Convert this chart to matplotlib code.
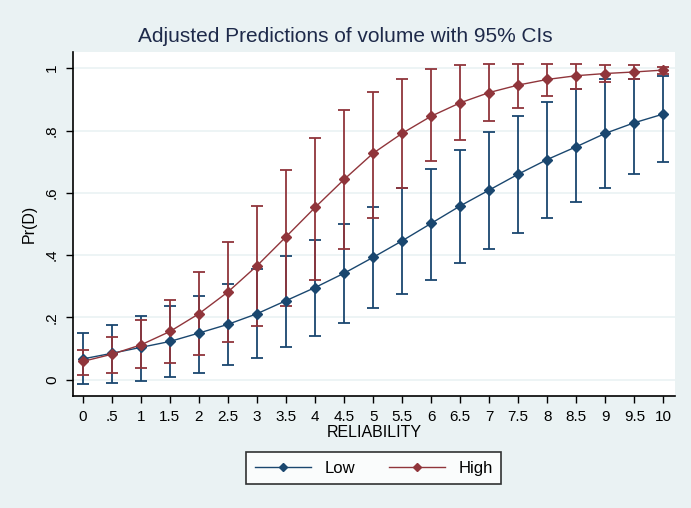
import matplotlib.pyplot as plt
import numpy as np

plt.rcParams['font.family'] = ['Liberation Sans', 'DejaVu Sans']

# reliability levels
reliability = [0, .5, 1, 1.5, 2, 2.5, 3, 3.5, 4, 4.5, 5, 5.5, 6, 6.5, 7, 7.5, 8, 8.5, 9, 9.5, 10]
tick_labels = ['0', '.5', '1', '1.5', '2', '2.5', '3', '3.5', '4', '4.5', '5',
               '5.5', '6', '6.5', '7', '7.5', '8', '8.5', '9', '9.5', '10']

# Low group: prediction and 95% CI
low_pred = [0.067, 0.085, 0.104, 0.123, 0.150, 0.178, 0.212, 0.254, 0.296, 0.342, 0.393,
            0.446, 0.502, 0.558, 0.609, 0.660, 0.707, 0.748, 0.791, 0.825, 0.853]
low_lo = [-0.014, -0.010, -0.005, 0.010, 0.023, 0.047, 0.070, 0.104, 0.141, 0.182, 0.230,
          0.275, 0.321, 0.374, 0.420, 0.471, 0.518, 0.570, 0.614, 0.659, 0.700]
low_hi = [0.150, 0.176, 0.205, 0.237, 0.270, 0.308, 0.355, 0.397, 0.449, 0.500, 0.556,
          0.616, 0.678, 0.739, 0.794, 0.846, 0.892, 0.932, 0.964, 0.967, 0.975]

# High group: prediction and 95% CI
high_pred = [0.059, 0.082, 0.112, 0.155, 0.212, 0.282, 0.366, 0.459, 0.553, 0.643, 0.727,
             0.791, 0.846, 0.889, 0.922, 0.946, 0.964, 0.976, 0.983, 0.988, 0.994]
high_lo = [0.014, 0.022, 0.037, 0.055, 0.079, 0.121, 0.172, 0.237, 0.320, 0.420, 0.518,
           0.614, 0.702, 0.771, 0.831, 0.871, 0.911, 0.934, 0.956, 0.965, 0.980]
high_hi = [0.097, 0.136, 0.192, 0.257, 0.346, 0.442, 0.557, 0.673, 0.775, 0.865, 0.924,
           0.967, 0.996, 1.010, 1.013, 1.013, 1.013, 1.013, 1.010, 1.010, 1.004]

bg = '#eaf2f3'
blue = '#1a476f'
red = '#90353b'

fig = plt.figure(figsize=(6.91, 5.08), dpi=100, facecolor=bg)
ax = fig.add_axes([0.1056, 0.2205, 0.8712, 0.6771])
ax.set_facecolor('white')

def draw(pred, lo, hi, color, label):
    pred = np.array(pred)
    err = [pred - np.array(lo), np.array(hi) - pred]
    ax.errorbar(reliability, pred, yerr=err, fmt='none', ecolor=color,
                elinewidth=1.3, capsize=4, capthick=1.3, zorder=2)
    ax.plot(reliability, pred, color=color, lw=1.0, marker='D', ms=5.5,
            label=label, zorder=3)

draw(low_pred, low_lo, low_hi, blue, 'Low')
draw(high_pred, high_lo, high_hi, red, 'High')

ax.set_xlim(-0.17, 10.2)
ax.set_ylim(-0.052, 1.052)
ax.set_xticks(reliability)
ax.set_xticklabels(tick_labels, fontsize=11)
ax.set_yticks([0, .2, .4, .6, .8, 1])
ax.set_yticklabels(['0', '.2', '.4', '.6', '.8', '1'], fontsize=11, rotation=90, va='center')
ax.tick_params(axis='both', length=5, width=1, color='black', pad=5)
ax.grid(axis='y', color=bg, lw=1.2)
ax.set_axisbelow(True)

for s in ['top', 'right']:
    ax.spines[s].set_visible(False)
for s in ['left', 'bottom']:
    ax.spines[s].set_linewidth(1.2)

ax.set_xlabel('RELIABILITY', fontsize=11.5, labelpad=1)
ax.set_ylabel('Pr(D)', fontsize=11.5, labelpad=6)
fig.suptitle('Adjusted Predictions of volume with 95% CIs', x=0.5, y=0.929, va='center',
             fontsize=15, color='#1e2a4a')

leg = ax.legend(loc='upper center', bbox_to_anchor=(0.5, -0.14), ncol=2,
                frameon=True, fancybox=False, edgecolor='black', fontsize=12,
                handlelength=3.4, columnspacing=2.0, borderpad=0.5, markerscale=0.75)
leg.get_frame().set_linewidth(1.2)

fig.savefig('out.png', dpi=100, facecolor=bg)
